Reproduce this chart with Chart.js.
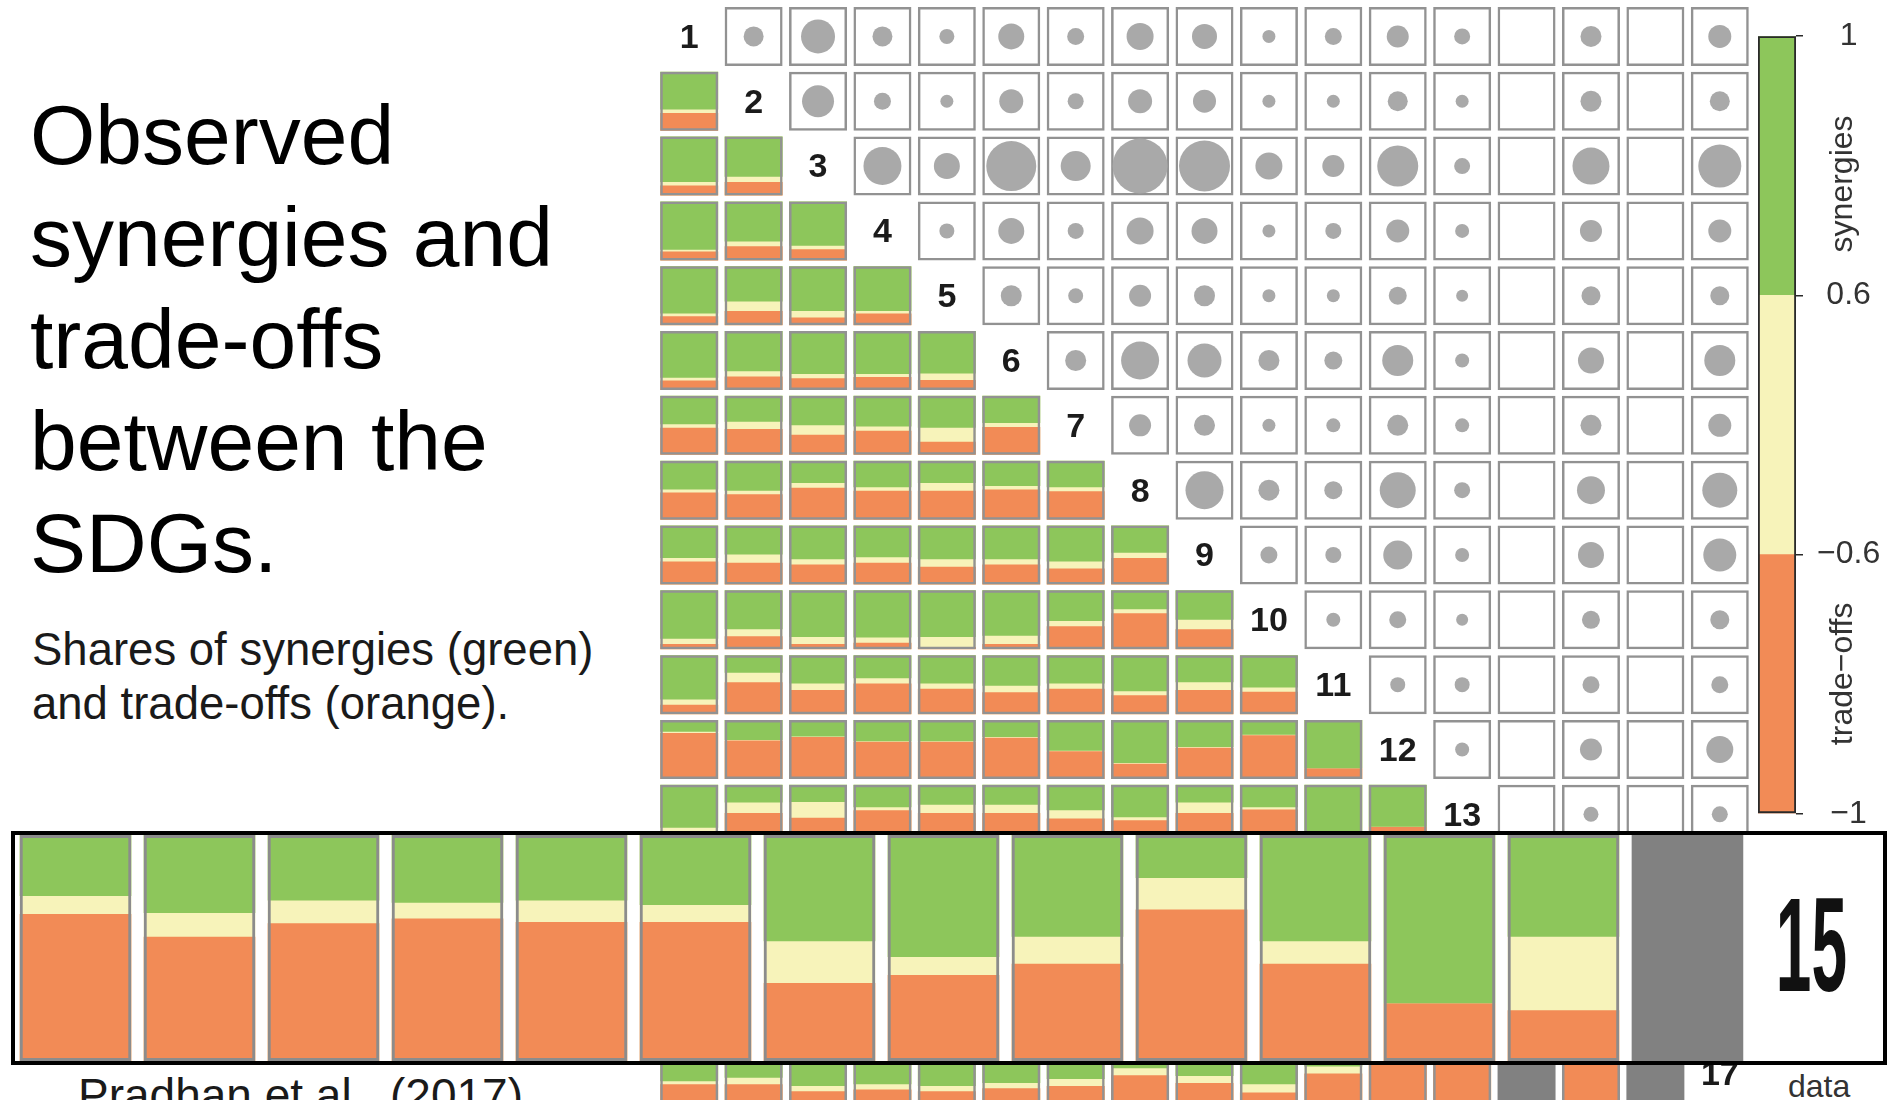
<!DOCTYPE html>
<html>
<head>
<meta charset="utf-8">
<script src="https://cdn.jsdelivr.net/npm/chart.js@4.4.0/dist/chart.umd.min.js"></script>
<style>
    html, body { margin: 0; padding: 0; background: #fff; width: 1889px; height: 1100px; overflow: hidden; }
    body { position: relative; font-family: "Liberation Sans", Arial, sans-serif; }
    #title { position: absolute; left: 30px; top: 84px; font-size: 84px; line-height: 102px; color: #000; white-space: nowrap; }
    #sub { position: absolute; left: 32px; top: 623px; font-size: 45.5px; line-height: 54px; color: #1a1a1a; white-space: nowrap; }
    #src { position: absolute; left: 78px; top: 1072px; font-size: 46px; line-height: 46px; color: #1a1a1a; white-space: nowrap; }
    #matrix { position: absolute; left: 657px; top: 4px; width: 1095px; height: 1102px; }
    #cbar { position: absolute; left: 1744px; top: 3px; width: 145px; height: 844px; }
    #nodata { position: absolute; left: 1788px; top: 1070px; font-size: 32px; line-height: 32px; color: #333; }
    #zoomBox { position: absolute; left: 11px; top: 831px; width: 1876px; height: 234px; box-sizing: border-box;
               border: 4px solid #000; background: #fff; z-index: 5; }
</style>
</head>
<body>
<div id="title">Observed<br>synergies and<br>trade-offs<br>between the<br>SDGs.</div>
<div id="sub">Shares of synergies (green)<br>and trade-offs (orange).</div>
<div id="src">Pradhan et al., (2017)</div>
<div id="matrix"><canvas id="matrixChart"></canvas></div>
<div id="cbar"><canvas id="cbarChart"></canvas></div>
<div id="nodata">data</div>
<div id="zoomBox"><canvas id="zoomChart"></canvas></div>

<script>
// SDG labels on the diagonal
const sdgs = ['1', '2', '3', '4', '5', '6', '7', '8', '9', '10', '11', '12', '13', '14', '15', '16', '17'];

// Lower triangle: share of synergies (green), row r lists columns 1..r-1
// null = no data, empty rows are hidden behind the zoomed row
const synergyShare = [
    [],
    [0.64],
    [0.77, 0.68],
    [0.82, 0.68, 0.75],
    [0.80, 0.60, 0.76, 0.76],
    [0.79, 0.68, 0.73, 0.73, 0.72],
    [0.48, 0.44, 0.50, 0.52, 0.54, 0.46],
    [0.49, 0.51, 0.38, 0.45, 0.38, 0.43, 0.45],
    [0.55, 0.49, 0.57, 0.54, 0.57, 0.57, 0.61, 0.46],
    [0.82, 0.66, 0.79, 0.80, 0.79, 0.77, 0.52, 0.32, 0.50],
    [0.75, 0.30, 0.48, 0.39, 0.48, 0.52, 0.48, 0.61, 0.46, 0.55],
    [0.20, 0.34, 0.28, 0.36, 0.36, 0.29, 0.52, 0.73, 0.46, 0.25, 0.82],
    [0.73, 0.30, 0.29, 0.38, 0.34, 0.34, 0.43, 0.55, 0.30, 0.38, 0.90, 0.71],
    [],
    [0.27, 0.345, 0.29, 0.30, 0.29, 0.31, 0.47, 0.54, 0.45, 0.19, 0.47, 0.745, 0.45, null],
    [],
    [0.63, 0.57, 0.71, 0.68, 0.71, 0.66, 0.59, 0.41, 0.54, 0.68, 0.38, 0.20, 0.25, null, 0.25, null]
];

// Lower triangle: share of trade-offs (orange); the rest is neutral (pale yellow)
const tradeoffShare = [
    [],
    [0.30],
    [0.17, 0.23],
    [0.15, 0.24, 0.19],
    [0.15, 0.24, 0.13, 0.20],
    [0.16, 0.23, 0.20, 0.22, 0.17],
    [0.46, 0.44, 0.34, 0.41, 0.22, 0.47],
    [0.46, 0.43, 0.54, 0.49, 0.49, 0.51, 0.48],
    [0.39, 0.37, 0.34, 0.37, 0.30, 0.34, 0.27, 0.45],
    [0.09, 0.22, 0.09, 0.11, 0.04, 0.09, 0.39, 0.61, 0.34],
    [0.16, 0.54, 0.41, 0.52, 0.43, 0.37, 0.43, 0.32, 0.41, 0.38],
    [0.78, 0.65, 0.71, 0.63, 0.63, 0.70, 0.47, 0.26, 0.53, 0.74, 0.18],
    [0.20, 0.52, 0.44, 0.57, 0.52, 0.52, 0.43, 0.40, 0.52, 0.58, 0.10, 0.29],
    [],
    [0.65, 0.55, 0.61, 0.63, 0.615, 0.615, 0.345, 0.38, 0.43, 0.67, 0.43, 0.255, 0.225, null],
    [],
    [0.32, 0.32, 0.20, 0.23, 0.20, 0.25, 0.29, 0.47, 0.34, 0.18, 0.50, 0.80, 0.65, null, 0.65, null]
];

// Upper triangle: circle size, row r lists columns r+1..17 (null = empty cell)
const dotValues = [
    [20, 34, 20, 15, 26, 17, 27, 25, 13, 17, 22, 16, null, 21, null, 23],
    [32, 17, 13, 24, 16, 24, 23, 13, 13, 20, 13, null, 21, null, 20],
    [38, 26, 50, 30, 55, 51, 27, 22, 41, 16, null, 37, null, 43],
    [15, 26, 16, 27, 26, 13, 16, 23, 14, null, 22, null, 23],
    [21, 15, 22, 21, 13, 13, 18, 12, null, 19, null, 19],
    [21, 38, 34, 21, 18, 31, 14, null, 26, null, 31],
    [22, 21, 13, 14, 21, 14, null, 21, null, 23],
    [38, 21, 18, 36, 16, null, 28, null, 35],
    [17, 16, 29, 14, null, 26, null, 33],
    [14, 17, 12, null, 18, null, 19],
    [15, 15, null, 17, null, 17],
    [14, null, 22, null, 27],
    [null, 15, null, 16]
];

// Colour bar
const cbTickLabels = ['\u22121', '\u22120.6', '0.6', '1'];

// the row that is shown enlarged (SDG 15)
const zoomRow = 14;

// Colours
const green = '#8dc65b';
const neutral = '#f7f3ba';
const orange = '#f28b56';
const noDataGrey = '#818181';
const dotGrey = '#a9a9a9';
const frameGrey = '#929292';

Chart.defaults.font.family = '"Liberation Sans", Arial, sans-serif';
Chart.defaults.animation = false;
Chart.defaults.events = [];
Chart.defaults.plugins.legend.display = false;
Chart.defaults.plugins.tooltip.enabled = false;

const CELL = 0.91;   // cell height in row units

// Build matrix datasets
const neutralCells = [], greenCells = [], orangeCells = [], greyCells = [], frameCells = [], dots = [];

synergyShare.forEach((row, ri) => {
    const r = ri + 1;
    const top = r - CELL / 2, bottom = r + CELL / 2;
    row.forEach((g, ci) => {
        const c = ci + 1;
        if (g === null) {
            greyCells.push({ x: c, y: [top, bottom] });
            return;
        }
        const t = tradeoffShare[ri][ci];
        neutralCells.push({ x: c, y: [top, bottom] });
        greenCells.push({ x: c, y: [top, top + g * CELL] });
        orangeCells.push({ x: c, y: [bottom - t * CELL, bottom] });
        frameCells.push({ x: c, y: [top, bottom] });
    });
});

dotValues.forEach((row, ri) => {
    const r = ri + 1;
    row.forEach((v, k) => {
        const c = r + 1 + k;
        frameCells.push({ x: c, y: [r - CELL / 2, r + CELL / 2] });
        if (v !== null) dots.push({ x: c, y: r, r: v / 2 });
    });
});

// Diagonal labels
const diagLabels = {
    id: 'diagLabels',
    afterDatasetsDraw(chart) {
        const { ctx, scales: { x, y } } = chart;
        ctx.save();
        ctx.font = 'bold 34px "Liberation Sans"';
        ctx.fillStyle = '#1b1b1b';
        ctx.textAlign = 'center';
        ctx.textBaseline = 'middle';
        sdgs.forEach((s, i) => {
            ctx.fillText(s, x.getPixelForValue(i + 1), y.getPixelForValue(i + 1) + 2);
        });
        ctx.restore();
    }
};

const unitTicks = (n) => (axis) => {
    axis.ticks = Array.from({ length: n }, (_, i) => ({ value: i + 1 }));
};

new Chart(document.getElementById('matrixChart'), {
    type: 'bar',
    data: {
        datasets: [
            { type: 'bubble', label: 'circles', data: dots, backgroundColor: dotGrey, borderWidth: 0, order: 0 },
            { label: 'frame', data: frameCells, backgroundColor: 'rgba(0,0,0,0)', borderColor: frameGrey, borderWidth: 2.5, order: 1 },
            { label: 'synergies', data: greenCells, backgroundColor: green, order: 2 },
            { label: 'trade-offs', data: orangeCells, backgroundColor: orange, order: 2 },
            { label: 'neutral', data: neutralCells, backgroundColor: neutral, order: 3 },
            { label: 'no data', data: greyCells, backgroundColor: noDataGrey, order: 3 }
        ]
    },
    options: {
        responsive: true,
        maintainAspectRatio: false,
        layout: { padding: 0, autoPadding: false },
        datasets: {
            bar: { grouped: false, barPercentage: 0.9, categoryPercentage: 1, borderSkipped: false }
        },
        scales: {
            x: { type: 'linear', offset: false, min: 0.5, max: 17.5, display: false, afterBuildTicks: unitTicks(17) },
            y: { type: 'linear', offset: false, min: 0.5, max: 17.5, reverse: true, display: false, afterBuildTicks: unitTicks(17) }
        }
    },
    plugins: [diagLabels]
});

// Colour bar
const cbTitles = {
    id: 'cbTitles',
    afterDraw(chart) {
        const { ctx, chartArea, scales: { y } } = chart;
        ctx.save();
        ctx.font = '32px "Liberation Sans"';
        ctx.fillStyle = '#333';
        ctx.textAlign = 'center';
        ctx.textBaseline = 'middle';
        [['synergies', 2.43], ['trade\u2212offs', 0.54]].forEach(([txt, v]) => {
            ctx.save();
            ctx.translate(chartArea.right + 47, y.getPixelForValue(v));
            ctx.rotate(-Math.PI / 2);
            ctx.fillText(txt, 0, 0);
            ctx.restore();
        });
        ctx.restore();
    }
};

new Chart(document.getElementById('cbarChart'), {
    type: 'bar',
    data: {
        labels: [''],
        datasets: [
            { label: 'frame', data: [[0, cbTickLabels.length - 1]], backgroundColor: 'rgba(0,0,0,0)', borderColor: '#2a2a2a', borderWidth: 1.5, order: 0 },
            { label: 'trade-offs', data: [[0, 1]], backgroundColor: orange, order: 1 },
            { label: 'neutral', data: [[1, 2]], backgroundColor: neutral, order: 1 },
            { label: 'synergies', data: [[2, 3]], backgroundColor: green, order: 1 }
        ]
    },
    options: {
        responsive: true,
        maintainAspectRatio: false,
        layout: { padding: { left: 14, right: 0, top: 0, bottom: 0 } },
        datasets: {
            bar: { grouped: false, barPercentage: 1, categoryPercentage: 1, borderSkipped: false }
        },
        scales: {
            x: { display: false },
            y: {
                position: 'right',
                min: 0,
                max: cbTickLabels.length - 1,
                afterFit: (s) => { s.width = 93; },
                grid: { display: true, drawOnChartArea: false, drawTicks: true, tickLength: 7, color: '#2a2a2a', lineWidth: 1.5 },
                border: { display: false },
                ticks: {
                    stepSize: 1,
                    padding: 14,
                    crossAlign: 'center',
                    color: '#333',
                    font: { size: 32 },
                    callback: (v) => cbTickLabels[v]
                }
            }
        }
    },
    plugins: [cbTitles]
});

// Enlarged row 15
const zGreen = [], zOrange = [], zNeutral = [], zGrey = [], zFrame = [];
synergyShare[zoomRow].forEach((g, ci) => {
    const c = ci + 1;
    if (g === null) {
        zGrey.push({ x: c, y: [0, 1] });
        return;
    }
    const t = tradeoffShare[zoomRow][ci];
    zNeutral.push({ x: c, y: [0, 1] });
    zGreen.push({ x: c, y: [1 - g, 1] });
    zOrange.push({ x: c, y: [0, t] });
    zFrame.push({ x: c, y: [0, 1] });
});

const bigLabel = {
    id: 'bigLabel',
    afterDatasetsDraw(chart) {
        const { ctx, scales: { x, y } } = chart;
        ctx.save();
        ctx.translate(x.getPixelForValue(zoomRow + 1), y.getPixelForValue(0.5));
        ctx.scale(1, 2.1);
        ctx.font = 'bold 64px "Liberation Sans"';
        ctx.fillStyle = '#111';
        ctx.textAlign = 'center';
        ctx.textBaseline = 'middle';
        ctx.fillText(sdgs[zoomRow], 0, 3);
        ctx.restore();
    }
};

new Chart(document.getElementById('zoomChart'), {
    type: 'bar',
    data: {
        datasets: [
            { label: 'frame', data: zFrame, backgroundColor: 'rgba(0,0,0,0)', borderColor: '#8c8c8c', borderWidth: 3, order: 1 },
            { label: 'synergies', data: zGreen, backgroundColor: green, order: 2 },
            { label: 'trade-offs', data: zOrange, backgroundColor: orange, order: 2 },
            { label: 'neutral', data: zNeutral, backgroundColor: neutral, order: 3 },
            { label: 'no data', data: zGrey, backgroundColor: noDataGrey, order: 3 }
        ]
    },
    options: {
        responsive: true,
        maintainAspectRatio: false,
        layout: { padding: 0, autoPadding: false },
        datasets: {
            bar: { grouped: false, barPercentage: 0.9, categoryPercentage: 1, borderSkipped: false }
        },
        scales: {
            x: { type: 'linear', offset: false, min: 0.512, max: 15.577, display: false, afterBuildTicks: unitTicks(15) },
            y: { type: 'linear', min: 0, max: 1, display: false }
        }
    },
    plugins: [bigLabel]
});
</script>
</body>
</html>
